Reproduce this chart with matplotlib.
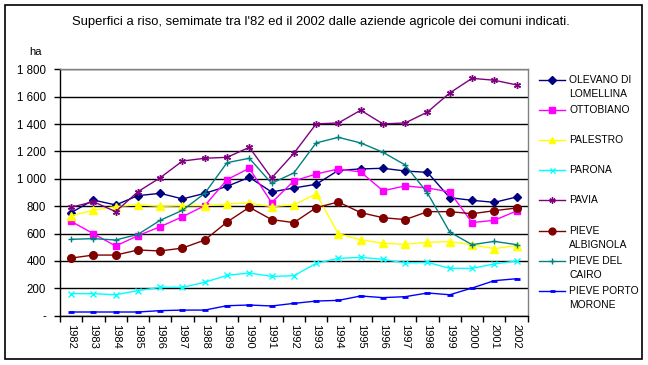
import matplotlib
matplotlib.use("Agg")
import matplotlib.pyplot as plt
from matplotlib.lines import Line2D
from matplotlib.patches import Rectangle
from matplotlib.ticker import FuncFormatter, MultipleLocator

plt.rcParams['font.family'] = ['Liberation Sans', 'DejaVu Sans']

years = [str(y) for y in range(1982, 2003)]

olevano = [753, 845, 809, 877, 894, 853, 894, 945, 1011, 904, 933, 960,
           1062, 1072, 1077, 1057, 1047, 862, 843, 828, 867]
ottobiano = [689, 599, 509, 585, 650, 723, 804, 994, 1077, 826, 984, 1035,
             1072, 1050, 913, 948, 933, 904, 680, 697, 765]
palestro = [731, 770, 797, 811, 799, 804, 804, 816, 823, 797, 811, 889,
            599, 555, 529, 521, 536, 541, 519, 490, 512]
parona = [161, 161, 153, 183, 207, 207, 244, 295, 312, 287, 292, 382,
          419, 426, 412, 385, 390, 346, 346, 378, 400]
pavia = [792, 833, 760, 906, 1008, 1130, 1150, 1157, 1230, 1006, 1186, 1401,
         1408, 1501, 1401, 1408, 1488, 1627, 1734, 1720, 1686]
pieve_albignola = [421, 443, 443, 480, 473, 494, 553, 684, 792, 702, 680, 789,
                   831, 753, 716, 702, 760, 760, 745, 767, 787]
pieve_cairo = [558, 563, 553, 594, 697, 770, 894, 1118, 1150, 967, 1043, 1262,
               1303, 1262, 1194, 1101, 896, 611, 519, 543, 519]
pieve_porto = [27, 27, 27, 27, 37, 41, 41, 73, 78, 71, 90, 107,
               112, 144, 132, 139, 166, 153, 202, 256, 270]

series = [
    ("OLEVANO DI\nLOMELLINA", olevano, "#000080", "D", 4.0),
    ("OTTOBIANO", ottobiano, "#FF00FF", "s", 5.0),
    ("PALESTRO", palestro, "#FFFF00", "^", 5.5),
    ("PARONA", parona, "#00FFFF", "x", 4.0),
    ("PAVIA", pavia, "#800080", (6, 2, 0), 5.0),
    ("PIEVE\nALBIGNOLA", pieve_albignola, "#800000", "o", 5.5),
    ("PIEVE DEL\nCAIRO", pieve_cairo, "#008080", "+", 5.0),
    ("PIEVE PORTO\nMORONE", pieve_porto, "#0000FF", "_", 4.0),
]

W, H = 648, 365
fig = plt.figure(figsize=(W / 100, H / 100), dpi=100)

# outer frame
fig.add_artist(Rectangle((5 / W, 1 - 359 / H), 637 / W, 354 / H,
                         transform=fig.transFigure, fill=False,
                         edgecolor="black", lw=1.2))

ax = fig.add_axes([60 / W, 1 - 315.7 / H, 467.7 / W, 246.4 / H])
x = list(range(len(years)))
for name, vals, col, mk, ms in series:
    mew = 2.0 if mk == "_" else 1.0
    ax.plot(x, vals, color=col, lw=1.0, marker=mk, markersize=ms,
            markerfacecolor=col, markeredgecolor=col, markeredgewidth=mew,
            clip_on=False, zorder=3)

ax.set_xlim(-0.5, len(years) - 0.5)
ax.set_ylim(0, 1800)
ax.yaxis.set_major_locator(MultipleLocator(200))
ax.yaxis.set_major_formatter(FuncFormatter(
    lambda v, p: "-" if v == 0 else f"{int(v):,}".replace(",", " ")))
ax.grid(axis="y", color="black", lw=1.0)
ax.set_axisbelow(True)

ax.set_xticks(x)
ax.set_xticklabels(years, rotation=270, fontsize=8)
ax.tick_params(axis="x", which="major", length=0, pad=6)
ax.set_xticks([i - 0.5 for i in range(len(years) + 1)], minor=True)
ax.tick_params(axis="x", which="minor", length=4, width=1, direction="out")
ax.tick_params(axis="y", length=4, width=1, direction="out", labelsize=8.3, pad=6)

for s in ["top", "right"]:
    ax.spines[s].set_color("#808080")
    ax.spines[s].set_linewidth(1.0)
for s in ["left", "bottom"]:
    ax.spines[s].set_color("black")
    ax.spines[s].set_linewidth(1.0)

fig.text(321 / W, 1 - 22 / H,
         "Superfici a riso, semimate tra l'82 ed il 2002 dalle aziende agricole dei comuni indicati.",
         ha="center", va="center", fontsize=9.4)
fig.text(35 / W, 1 - 52 / H, "ha", ha="center", va="center", fontsize=8)

# legend
y0 = 80
for i, (name, vals, col, mk, ms) in enumerate(series):
    yy = 1 - (y0 + i * 30.1) / H
    mew = 2.0 if mk == "_" else 1.0
    fig.add_artist(Line2D([539 / W, 565 / W], [yy, yy], transform=fig.transFigure,
                          color=col, lw=1.0))
    fig.add_artist(Line2D([552 / W], [yy], transform=fig.transFigure,
                          color=col, marker=mk, markersize=ms * 0.9,
                          markerfacecolor=col, markeredgecolor=col,
                          markeredgewidth=mew))
    fig.text(569 / W, yy + 5 / H, name, ha="left", va="top", fontsize=7.4,
             linespacing=1.5)

fig.savefig("out.png", dpi=100)
